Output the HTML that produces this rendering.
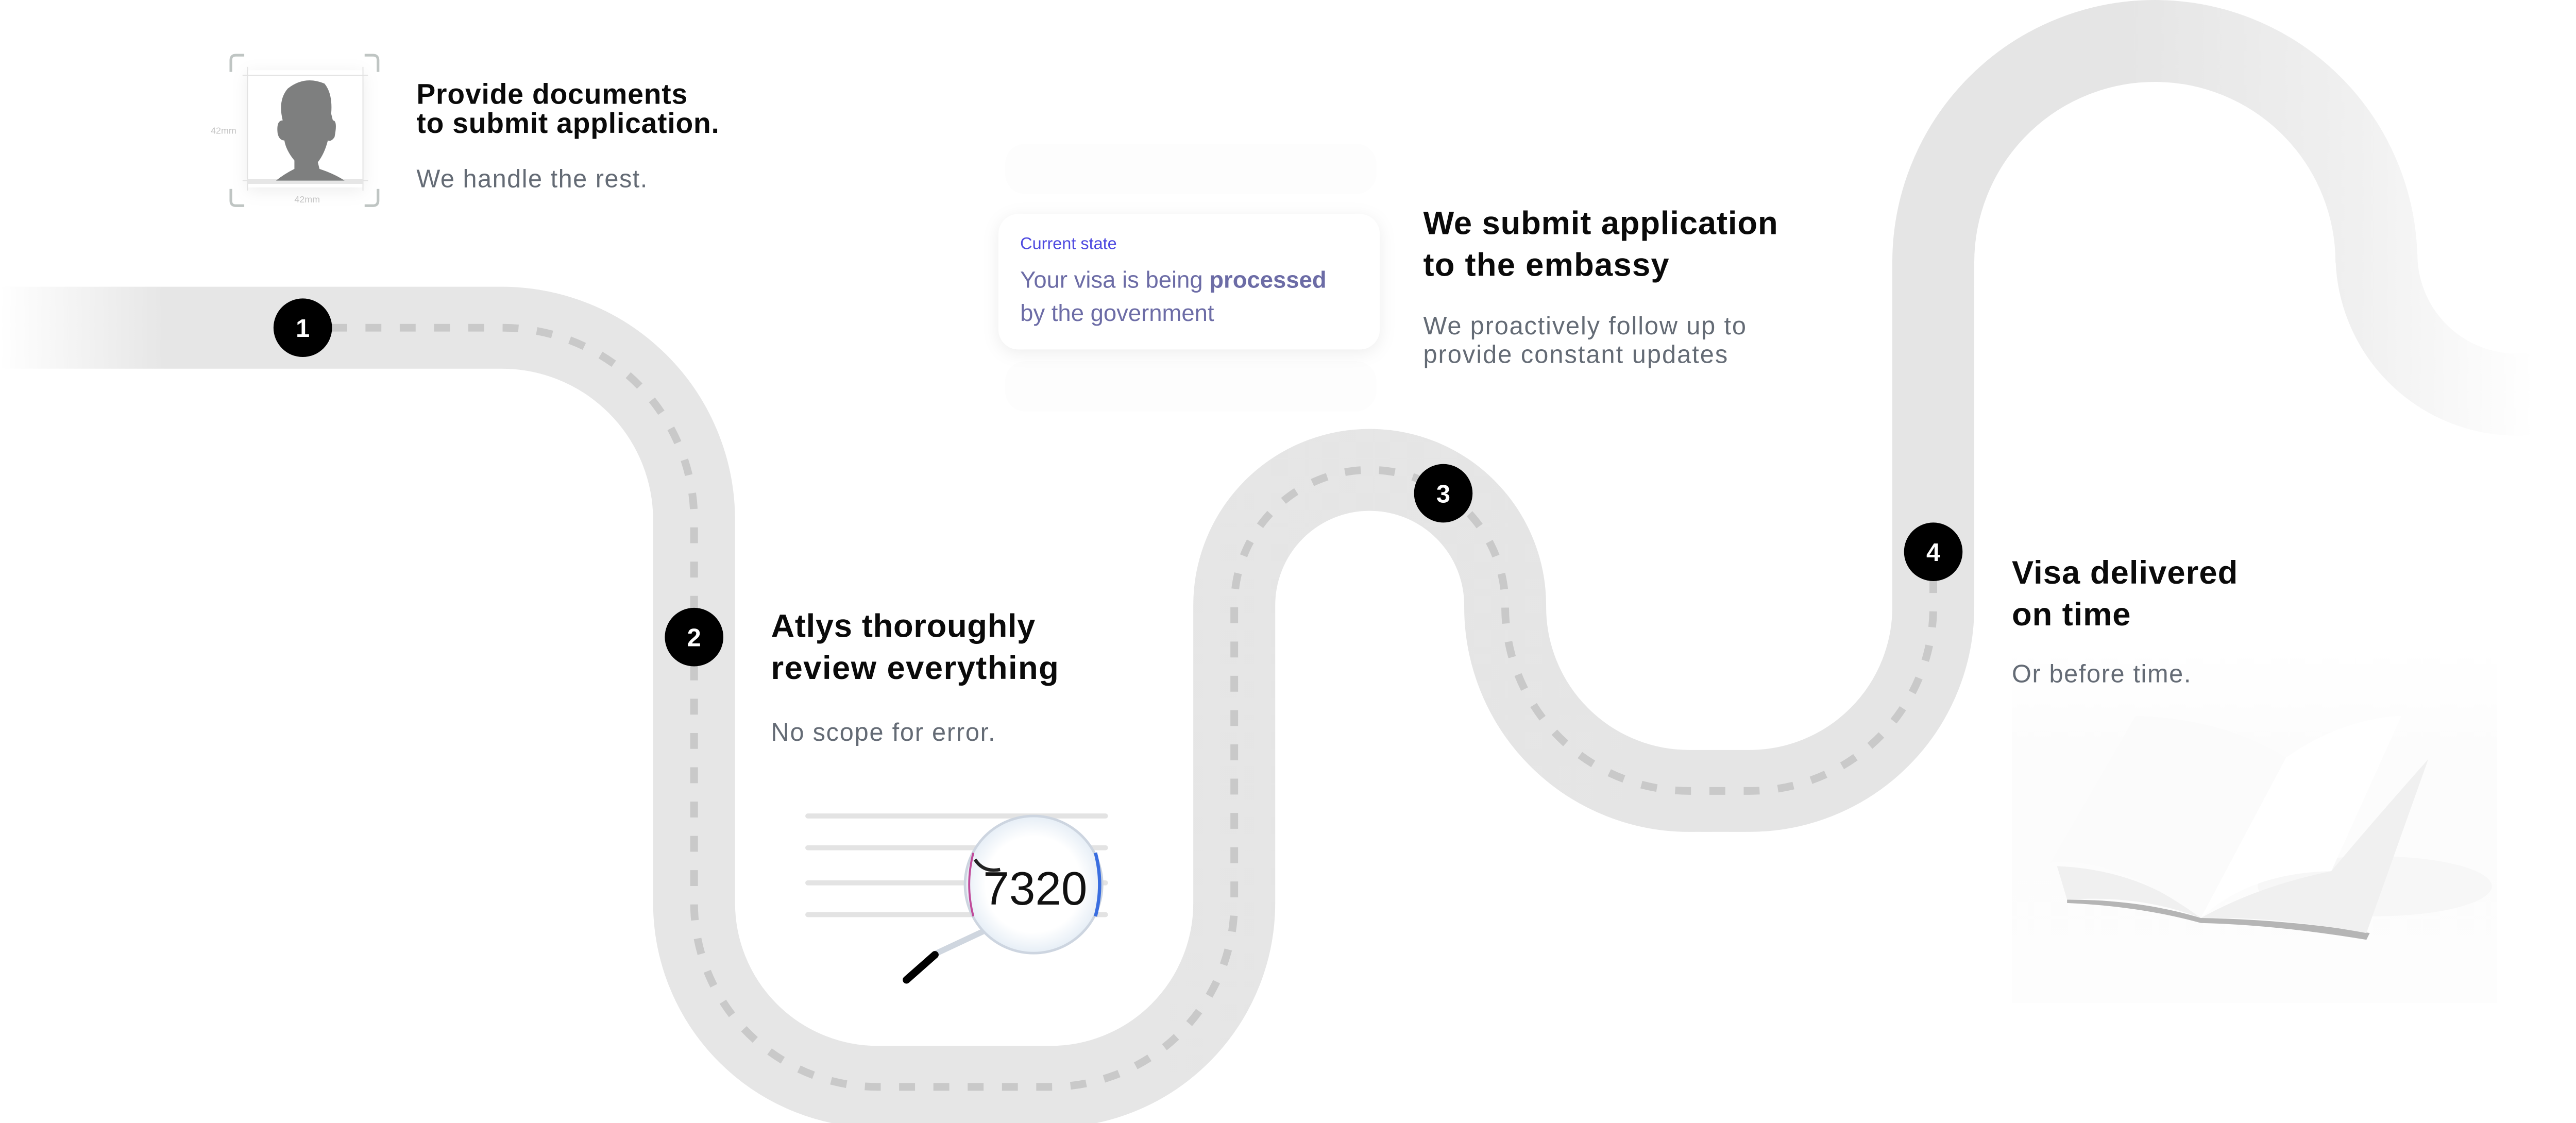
<!DOCTYPE html>
<html><head><meta charset="utf-8">
<style>
html,body{margin:0;padding:0;background:#fff;}
body{width:5064px;height:2180px;overflow:hidden;}
svg{display:block;}
text{font-family:"Liberation Sans",Arial,sans-serif;}
</style></head>
<body>
<svg width="5064" height="2180" viewBox="0 0 1560 671.6" xmlns="http://www.w3.org/2000/svg">
<defs>
<linearGradient id="roadg" gradientUnits="userSpaceOnUse" x1="0" y1="0" x2="1515" y2="0">
<stop offset="0" stop-color="#ffffff"/>
<stop offset="0.065" stop-color="#e6e6e6"/>
<stop offset="0.84" stop-color="#e5e5e5"/>
<stop offset="0.93" stop-color="#f0f0f0"/>
<stop offset="1" stop-color="#ffffff"/>
</linearGradient>
<filter id="sh" x="-20%" y="-40%" width="140%" height="180%">
<feDropShadow dx="0" dy="2" stdDeviation="5" flood-color="#000" flood-opacity="0.07"/>
</filter>
<radialGradient id="lens" cx="0.5" cy="0.5" r="0.5">
<stop offset="0.7" stop-color="#ffffff"/>
<stop offset="1" stop-color="#e6eef6"/>
</radialGradient>
<linearGradient id="bookbg" x1="0" y1="0" x2="0" y2="1">
<stop offset="0" stop-color="#ffffff"/>
<stop offset="0.3" stop-color="#fcfcfc"/>
<stop offset="1" stop-color="#fdfdfd"/>
</linearGradient>
</defs>

<!-- road -->
<path d="M0 196 H300 A115 115 0 0 1 415 311 V540 A110 110 0 0 0 525 650 H628 A110 110 0 0 0 738 540 V362 A81 81 0 0 1 900 362 V363 A110 110 0 0 0 1010 473 H1046 A110 110 0 0 0 1156 363 V157 A132.5 132.5 0 0 1 1421 157 V152 A84 84 0 0 0 1505 236 H1520"
 fill="none" stroke="url(#roadg)" stroke-width="49"/>

<!-- dashes -->
<path d="M198 196 H300 A115 115 0 0 1 415 311 V540 A110 110 0 0 0 525 650 H628 A110 110 0 0 0 738 540 V362 A81 81 0 0 1 900 362 V363 A110 110 0 0 0 1010 473 H1046 A110 110 0 0 0 1156 363 V345"
 fill="none" stroke="#c9c9c9" stroke-width="4.6" stroke-dasharray="9.5 11"/>

<!-- nodes -->
<g font-weight="700" font-size="15" fill="#fff" text-anchor="middle">
<circle cx="181" cy="196" r="17.5" fill="#000"/><text x="181" y="201.5">1</text>
<circle cx="415" cy="381" r="17.5" fill="#000"/><text x="415" y="386.5">2</text>
<circle cx="863" cy="295" r="17.5" fill="#000"/><text x="863" y="300.5">3</text>
<circle cx="1156" cy="330" r="17.5" fill="#000"/><text x="1156" y="335.5">4</text>
</g>

<!-- photo -->
<g>
<rect x="148" y="42" width="69" height="70" fill="#fff" filter="url(#sh)"/>
<g fill="none" stroke="#bfc5c3" stroke-width="1.6">
<path d="M146 33 H141 Q138 33 138 36 V43"/>
<path d="M218 33 H223 Q226 33 226 36 V43"/>
<path d="M146 123 H141 Q138 123 138 120 V113"/>
<path d="M218 123 H223 Q226 123 226 120 V113"/>
</g>
<g stroke="#e2e2e2" stroke-width="0.6">
<line x1="145" y1="45" x2="220" y2="45"/><line x1="145" y1="108" x2="220" y2="108"/>
<line x1="148" y1="40" x2="148" y2="114"/><line x1="217" y1="40" x2="217" y2="114"/>
</g>
<rect x="148" y="107" width="69" height="3" fill="#e6e6e6"/>
<path d="M172 53 Q182 45 194 50 Q199 56 198 68 L199 72 Q202 72 200 82 Q198 85 196 84 Q194 92 190 97 L191 101 Q200 104 206 108 H165 Q170 104 176 101 L176 96 Q171 90 170 84 Q167 84 166 80 Q165 72 169 72 Q166 60 172 53 Z" fill="#7e7f7f"/>
<text x="126" y="80" font-size="5.5" fill="#c4c4c4">42mm</text>
<text x="176" y="121" font-size="5.5" fill="#c4c4c4">42mm</text>
</g>

<!-- step 1 text -->
<text x="249" y="62" font-size="17" font-weight="700" fill="#0a0a0a" textLength="162">Provide documents</text>
<text x="249" y="79.5" font-size="17" font-weight="700" fill="#0a0a0a" textLength="181">to submit application.</text>
<text x="249" y="112" font-size="15" fill="#646b75" textLength="138">We handle the rest.</text>

<!-- ghost cards -->
<rect x="601" y="86" width="222" height="30" rx="12" fill="#fdfdfd"/>
<rect x="601" y="216" width="222" height="30" rx="12" fill="#fdfdfd"/>
<!-- card -->
<rect x="597" y="128" width="228" height="81" rx="12" fill="#fff" filter="url(#sh)"/>
<text x="610" y="149" font-size="10" fill="#4d49e0">Current state</text>
<text x="610" y="172" font-size="14" fill="#6c6ca6">Your visa is being <tspan font-weight="700">processed</tspan></text>
<text x="610" y="192" font-size="14" fill="#6c6ca6">by the government</text>

<!-- step 3 text -->
<text x="851" y="140" font-size="19.5" font-weight="700" fill="#0a0a0a" textLength="212">We submit application</text>
<text x="851" y="165" font-size="19.5" font-weight="700" fill="#0a0a0a" textLength="147">to the embassy</text>
<text x="851" y="200" font-size="15" fill="#646b75" textLength="193">We proactively follow up to</text>
<text x="851" y="217" font-size="15" fill="#646b75" textLength="182">provide constant updates</text>

<!-- step 2 text -->
<text x="461" y="381" font-size="19.5" font-weight="700" fill="#0a0a0a" textLength="158">Atlys thoroughly</text>
<text x="461" y="406" font-size="19.5" font-weight="700" fill="#0a0a0a" textLength="172">review everything</text>
<text x="461" y="443" font-size="15" fill="#646b75" textLength="134">No scope for error.</text>

<!-- magnifier -->
<g stroke="#e3e3e3" stroke-width="3" stroke-linecap="round">
<line x1="483" y1="488" x2="661" y2="488"/>
<line x1="483" y1="507" x2="661" y2="507"/>
<line x1="483" y1="528" x2="661" y2="528"/>
<line x1="483" y1="547" x2="661" y2="547"/>
</g>
<line x1="590" y1="556" x2="558" y2="571" stroke="#cfd6df" stroke-width="3.5"/>
<line x1="559" y1="571" x2="542" y2="586" stroke="#000" stroke-width="4.5" stroke-linecap="round"/>
<circle cx="618" cy="529" r="41" fill="url(#lens)" stroke="#cdd5e0" stroke-width="1.5"/>
<path d="M583 514 Q588 522 598 520" fill="none" stroke="#222" stroke-width="2"/>
<path d="M655 510 Q660 529 655 548" fill="none" stroke="#3a6ee0" stroke-width="2"/>
<path d="M582 510 Q577 529 582 548" fill="none" stroke="#c04a9a" stroke-width="1.2"/>
<text x="619" y="541" font-size="28" fill="#111" text-anchor="middle">7320</text>

<!-- book -->
<rect x="1203" y="388" width="290" height="212" fill="url(#bookbg)"/>
<ellipse cx="1420" cy="530" rx="70" ry="18" fill="#f7f7f7"/>
<path d="M1236 540 Q1280 542 1316 552 Q1360 553 1415 562 L1417 558 Q1370 550 1316 549 Q1280 538 1236 538 Z" fill="#b5b5b5"/>
<path d="M1236 538 Q1280 535 1316 549 Q1360 548 1415 558 L1452 454 Q1420 490 1394 521 Q1350 530 1316 549 Q1280 520 1230 518 Z" fill="#f0f0f0"/>
<path d="M1226 516 Q1265 512 1316 549 L1367 453 Q1330 430 1277 428 Z" fill="#fbfbfb"/>
<path d="M1316 549 Q1345 522 1394 521 L1436 428 Q1400 430 1367 453 Z" fill="#ffffff"/>

<!-- step 4 text -->
<text x="1203" y="349" font-size="19.5" font-weight="700" fill="#0a0a0a" textLength="135">Visa delivered</text>
<text x="1203" y="374" font-size="19.5" font-weight="700" fill="#0a0a0a" textLength="71">on time</text>
<text x="1203" y="408" font-size="15" fill="#646b75" textLength="107">Or before time.</text>
</svg>
</body></html>
